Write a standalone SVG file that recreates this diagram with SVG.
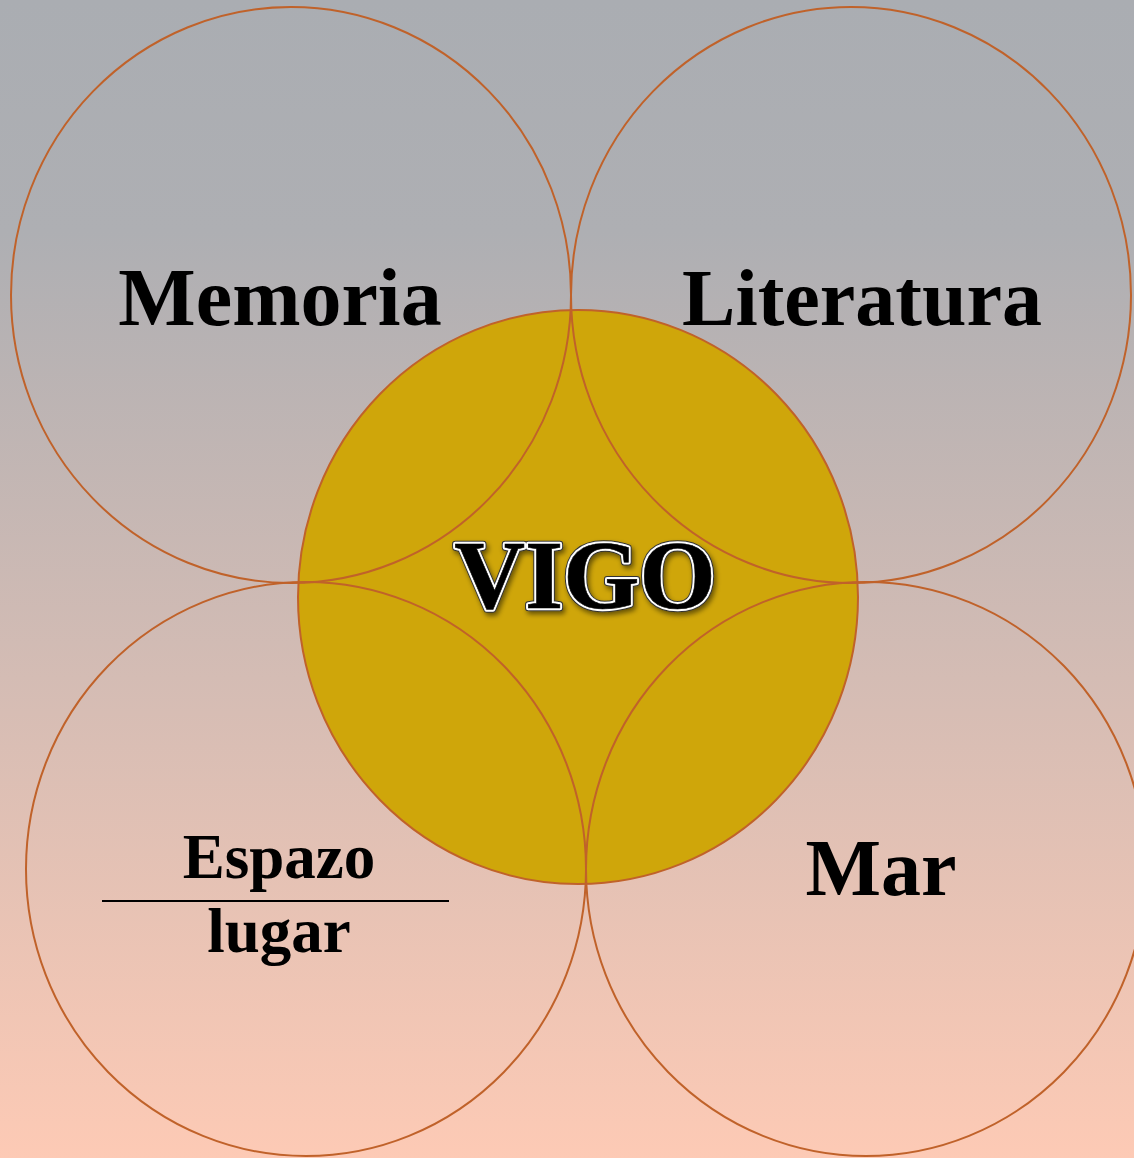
<svg xmlns="http://www.w3.org/2000/svg" width="1134" height="1158" viewBox="0 0 1134 1158">
<defs>
<linearGradient id="bg" x1="0" y1="0" x2="0" y2="1">
<stop offset="0" stop-color="#aaadb2"/>
<stop offset="0.2" stop-color="#aeafb3"/>
<stop offset="1" stop-color="#fdcab5"/>
</linearGradient>
<linearGradient id="vg" gradientUnits="userSpaceOnUse" x1="0" y1="540" x2="0" y2="612">
<stop offset="0" stop-color="#6e6e6e"/>
<stop offset="0.5" stop-color="#555"/>
<stop offset="0.51" stop-color="#000"/>
<stop offset="1" stop-color="#000"/>
</linearGradient>
<filter id="sh" x="-10%" y="-20%" width="120%" height="150%">
<feGaussianBlur in="SourceAlpha" stdDeviation="2.5"/>
<feOffset dx="2" dy="3" result="b"/>
<feFlood flood-color="#000" flood-opacity="0.5"/>
<feComposite in2="b" operator="in"/>
<feMerge><feMergeNode/><feMergeNode in="SourceGraphic"/></feMerge>
</filter>
</defs>
<style>
.c{fill:none;stroke:#c0622a;stroke-width:2}
.t{font-family:"Liberation Serif","Times New Roman",serif;font-weight:bold;fill:#000;text-anchor:middle}
</style>
<rect width="1134" height="1158" fill="url(#bg)"/>
<g id="vigo">
<ellipse cx="578" cy="597" rx="280" ry="287" fill="#cfa60a"/>
</g>
<g id="memoria">
<ellipse class="c" cx="291" cy="295" rx="280" ry="288"/>
<text class="t" x="280" y="325" font-size="82">Memoria</text>
</g>
<g id="literatura">
<ellipse class="c" cx="851" cy="295" rx="280" ry="288"/>
<text class="t" x="862" y="325" font-size="80">Literatura</text>
</g>
<g id="espazo">
<ellipse class="c" cx="306" cy="869" rx="280" ry="287"/>
<text class="t" x="279" y="878" font-size="63">Espazo</text>
<line x1="102" y1="901" x2="449" y2="901" stroke="#000" stroke-width="2"/>
<text class="t" x="279" y="952" font-size="63">lugar</text>
</g>
<g id="mar">
<ellipse class="c" cx="866" cy="869" rx="280" ry="287"/>
<text class="t" x="881" y="895" font-size="80">Mar</text>
</g>
<g id="vigo-label">
<ellipse class="c" cx="578" cy="597" rx="280" ry="287"/>
<g filter="url(#sh)">
<text class="t" x="585" y="608" font-size="98" stroke="#333" stroke-width="6.5" stroke-linejoin="round">VIGO</text>
<text class="t" x="585" y="608" font-size="98" stroke="#fff" stroke-width="4.5" stroke-linejoin="round">VIGO</text>
<text class="t" x="585" y="608" font-size="98" fill="url(#vg)" stroke="#000" stroke-width="0.6">VIGO</text>
</g>
</g>
</svg>
